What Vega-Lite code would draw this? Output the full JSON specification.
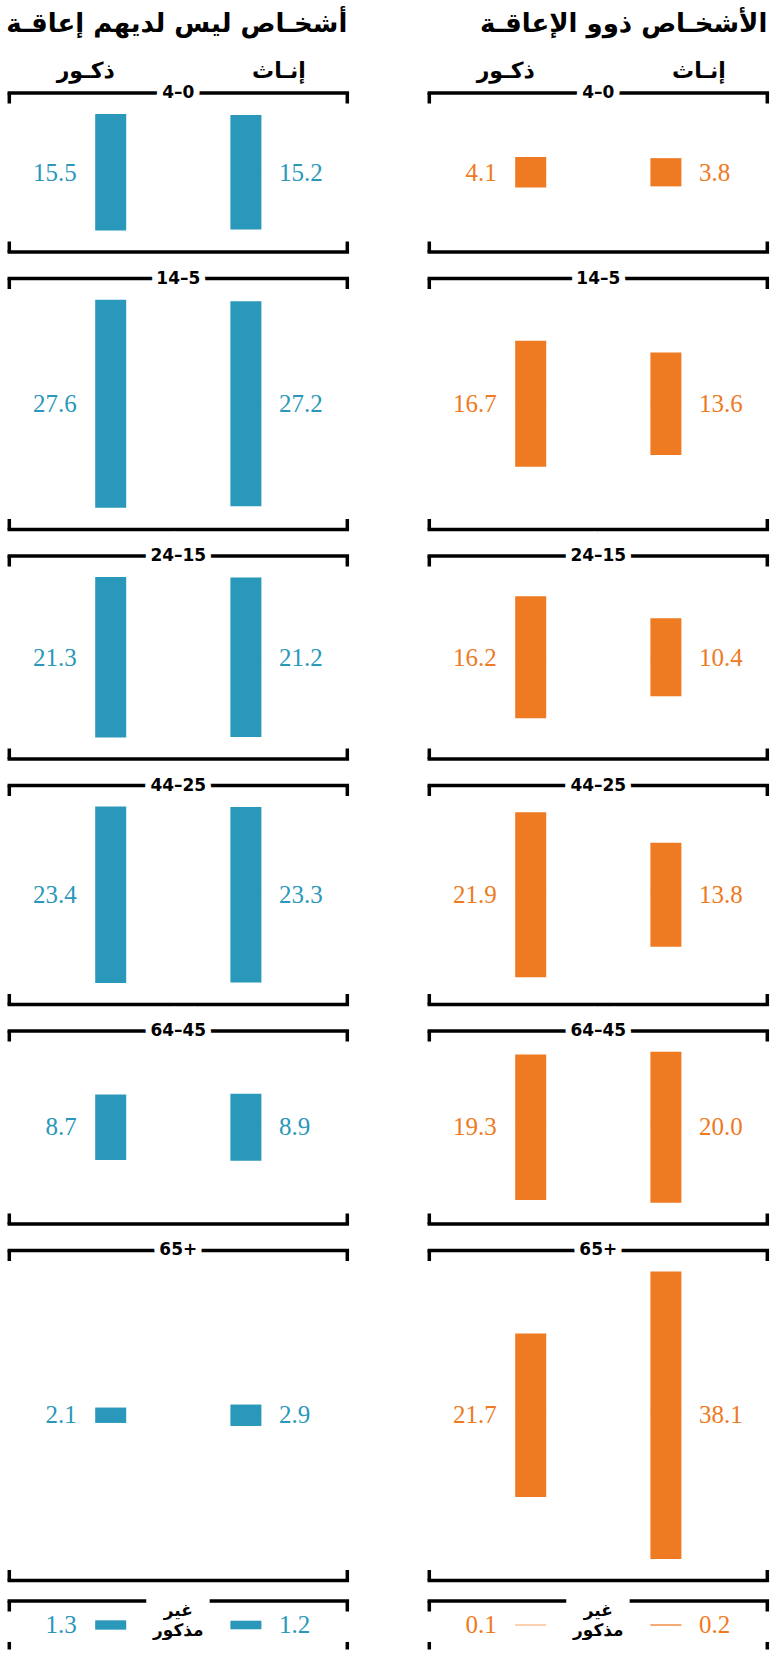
{
"$schema": "https://vega.github.io/schema/vega-lite/v6.json",
"padding": {"left": 5.3, "top": 11, "right": 0, "bottom": 0},
"background": "white",
"config": {"view": {"stroke": null}},
"datasets": {"d": [
{"group": "أشخـاص ليس لديهم إعاقـة", "age": "4–0", "sex": "ذكـور", "value": 15.5},
{"group": "أشخـاص ليس لديهم إعاقـة", "age": "4–0", "sex": "إنـاث", "value": 15.2},
{"group": "أشخـاص ليس لديهم إعاقـة", "age": "14–5", "sex": "ذكـور", "value": 27.6},
{"group": "أشخـاص ليس لديهم إعاقـة", "age": "14–5", "sex": "إنـاث", "value": 27.2},
{"group": "أشخـاص ليس لديهم إعاقـة", "age": "24–15", "sex": "ذكـور", "value": 21.3},
{"group": "أشخـاص ليس لديهم إعاقـة", "age": "24–15", "sex": "إنـاث", "value": 21.2},
{"group": "أشخـاص ليس لديهم إعاقـة", "age": "44–25", "sex": "ذكـور", "value": 23.4},
{"group": "أشخـاص ليس لديهم إعاقـة", "age": "44–25", "sex": "إنـاث", "value": 23.3},
{"group": "أشخـاص ليس لديهم إعاقـة", "age": "64–45", "sex": "ذكـور", "value": 8.7},
{"group": "أشخـاص ليس لديهم إعاقـة", "age": "64–45", "sex": "إنـاث", "value": 8.9},
{"group": "أشخـاص ليس لديهم إعاقـة", "age": "65+", "sex": "ذكـور", "value": 2.1},
{"group": "أشخـاص ليس لديهم إعاقـة", "age": "65+", "sex": "إنـاث", "value": 2.9},
{"group": "أشخـاص ليس لديهم إعاقـة", "age": "غير مذكور", "sex": "ذكـور", "value": 1.3},
{"group": "أشخـاص ليس لديهم إعاقـة", "age": "غير مذكور", "sex": "إنـاث", "value": 1.2},
{"group": "الأشخـاص ذوو الإعاقـة", "age": "4–0", "sex": "ذكـور", "value": 4.1},
{"group": "الأشخـاص ذوو الإعاقـة", "age": "4–0", "sex": "إنـاث", "value": 3.8},
{"group": "الأشخـاص ذوو الإعاقـة", "age": "14–5", "sex": "ذكـور", "value": 16.7},
{"group": "الأشخـاص ذوو الإعاقـة", "age": "14–5", "sex": "إنـاث", "value": 13.6},
{"group": "الأشخـاص ذوو الإعاقـة", "age": "24–15", "sex": "ذكـور", "value": 16.2},
{"group": "الأشخـاص ذوو الإعاقـة", "age": "24–15", "sex": "إنـاث", "value": 10.4},
{"group": "الأشخـاص ذوو الإعاقـة", "age": "44–25", "sex": "ذكـور", "value": 21.9},
{"group": "الأشخـاص ذوو الإعاقـة", "age": "44–25", "sex": "إنـاث", "value": 13.8},
{"group": "الأشخـاص ذوو الإعاقـة", "age": "64–45", "sex": "ذكـور", "value": 19.3},
{"group": "الأشخـاص ذوو الإعاقـة", "age": "64–45", "sex": "إنـاث", "value": 20.0},
{"group": "الأشخـاص ذوو الإعاقـة", "age": "65+", "sex": "ذكـور", "value": 21.7},
{"group": "الأشخـاص ذوو الإعاقـة", "age": "65+", "sex": "إنـاث", "value": 38.1},
{"group": "الأشخـاص ذوو الإعاقـة", "age": "غير مذكور", "sex": "ذكـور", "value": 0.1},
{"group": "الأشخـاص ذوو الإعاقـة", "age": "غير مذكور", "sex": "إنـاث", "value": 0.2}
]},
"spacing": 14.5,
"vconcat": [
{
"data": {"name": "d"},
"transform": [{"filter": {"field": "age", "equal": "4–0"}}],
"facet": {"column": {"field": "group", "type": "nominal", "sort": ["أشخـاص ليس لديهم إعاقـة", "الأشخـاص ذوو الإعاقـة"], "header": {"title": null, "labelOrient": "top", "labelAnchor": "end", "labelAlign": "right", "labelBaseline": "alphabetic", "labelFont": "DejaVu Sans", "labelFontWeight": "bold", "labelFontSize": 26, "labelColor": "#000", "labelPadding": 35}}},
"spacing": 82,
"bounds": "flush",
"spec": {
"width": 338, "height": 159,
"layer": [
{"mark": {"type": "bar", "width": 31}, "encoding": {
"x": {"field": "sex", "type": "nominal", "scale": {"type": "point", "domain": ["ذكـور", "إنـاث"], "padding": 0.75}, "axis": null},
"y": {"field": "value", "type": "quantitative", "stack": null, "scale": {"domain": [-21.04, 21.04], "nice": false}, "axis": null},
"color": {"field": "group", "type": "nominal", "scale": {"domain": ["أشخـاص ليس لديهم إعاقـة", "الأشخـاص ذوو الإعاقـة"], "range": ["#2a98ba", "#ee7a22"]}, "legend": null}}},
{"mark": {"type": "bar", "width": 31}, "encoding": {
"x": {"field": "sex", "type": "nominal", "scale": {"type": "point", "domain": ["ذكـور", "إنـاث"], "padding": 0.75}, "axis": null},
"y": {"field": "value", "type": "quantitative", "stack": null, "scale": {"domain": [-20.91, 21.17], "reverse": true, "nice": false}, "axis": null},
"color": {"field": "group", "type": "nominal", "legend": null}}},
{"layer": [
{"transform": [{"filter": {"field": "sex", "equal": "ذكـور"}}],
"mark": {"type": "text", "align": "right", "baseline": "middle", "dx": -34, "font": "Liberation Serif", "fontSize": 25},
"encoding": {"x": {"field": "sex", "type": "nominal", "scale": {"type": "point", "domain": ["ذكـور", "إنـاث"], "padding": 0.75}, "axis": null}, "y": {"datum": 0, "type": "quantitative", "scale": {"domain": [-10.52, 10.52], "nice": false}, "axis": null}, "text": {"field": "value", "type": "quantitative", "format": ".1f"}, "color": {"field": "group", "type": "nominal", "legend": null}}},
{"transform": [{"filter": {"field": "sex", "equal": "إنـاث"}}],
"mark": {"type": "text", "align": "left", "baseline": "middle", "dx": 33, "font": "Liberation Serif", "fontSize": 25},
"encoding": {"x": {"field": "sex", "type": "nominal"}, "y": {"datum": 0, "type": "quantitative"}, "text": {"field": "value", "type": "quantitative", "format": ".1f"}, "color": {"field": "group", "type": "nominal", "legend": null}}},
{"transform": [{"filter": {"field": "sex", "equal": "ذكـور"}}],
"mark": {"type": "text", "align": "center", "baseline": "alphabetic", "dx": -25, "font": "DejaVu Sans", "fontWeight": "bold", "fontSize": 22, "color": "#000"},
"encoding": {"x": {"field": "sex", "type": "nominal"}, "y": {"datum": 12.57, "type": "quantitative"}, "text": {"field": "sex"}}},
{"transform": [{"filter": {"field": "sex", "equal": "إنـاث"}}],
"mark": {"type": "text", "align": "center", "baseline": "alphabetic", "dx": 33, "font": "DejaVu Sans", "fontWeight": "bold", "fontSize": 22, "color": "#000"},
"encoding": {"x": {"field": "sex", "type": "nominal"}, "y": {"datum": 12.57, "type": "quantitative"}, "text": {"field": "sex"}}}
]},
{"transform": [{"filter": {"field": "sex", "equal": "ذكـور"}}],
"layer": [
{"mark": {"type": "rule", "strokeWidth": 3.5, "strokeCap": "square", "color": "#000"}, "encoding": {"x": {"datum": 0, "type": "quantitative", "scale": {"domain": [0, 1], "nice": false, "zero": false}, "axis": null}, "x2": {"datum": 1}, "y": {"datum": 10.52, "type": "quantitative", "scale": {"domain": [-10.52, 10.52], "nice": false}, "axis": null}}},
{"mark": {"type": "rule", "strokeWidth": 3.5, "strokeCap": "square", "color": "#000"}, "encoding": {"x": {"datum": 0, "type": "quantitative"}, "x2": {"datum": 1}, "y": {"datum": -10.52, "type": "quantitative"}}},
{"mark": {"type": "rule", "strokeWidth": 3.5, "color": "#000"}, "encoding": {"x": {"datum": 0, "type": "quantitative"}, "y": {"datum": 10.52, "type": "quantitative"}, "y2": {"datum": 9.13}}},
{"mark": {"type": "rule", "strokeWidth": 3.5, "color": "#000"}, "encoding": {"x": {"datum": 1, "type": "quantitative"}, "y": {"datum": 10.52, "type": "quantitative"}, "y2": {"datum": 9.13}}},
{"mark": {"type": "rule", "strokeWidth": 3.5, "color": "#000"}, "encoding": {"x": {"datum": 0, "type": "quantitative"}, "y": {"datum": -10.52, "type": "quantitative"}, "y2": {"datum": -9.13}}},
{"mark": {"type": "rule", "strokeWidth": 3.5, "color": "#000"}, "encoding": {"x": {"datum": 1, "type": "quantitative"}, "y": {"datum": -10.52, "type": "quantitative"}, "y2": {"datum": -9.13}}},
{"mark": {"type": "text", "font": "DejaVu Sans", "fontWeight": "bold", "fontSize": 17, "baseline": "middle", "fill": "#fff", "stroke": "#fff", "strokeWidth": 12}, "encoding": {"x": {"datum": 0.5, "type": "quantitative"}, "y": {"datum": 10.52, "type": "quantitative"}, "text": {"field": "age"}}},
{"mark": {"type": "text", "font": "DejaVu Sans", "fontWeight": "bold", "fontSize": 17, "baseline": "middle", "color": "#000"}, "encoding": {"x": {"datum": 0.5, "type": "quantitative"}, "y": {"datum": 10.52, "type": "quantitative"}, "text": {"field": "age"}}}
]}
],
"resolve": {"scale": {"x": "independent", "y": "independent"}}
}
},
{
"data": {"name": "d"},
"transform": [{"filter": {"field": "age", "equal": "14–5"}}],
"facet": {"column": {"field": "group", "type": "nominal", "sort": ["أشخـاص ليس لديهم إعاقـة", "الأشخـاص ذوو الإعاقـة"], "header": null}},
"spacing": 82,
"bounds": "flush",
"spec": {
"width": 338, "height": 251,
"layer": [
{"mark": {"type": "bar", "width": 31}, "encoding": {
"x": {"field": "sex", "type": "nominal", "scale": {"type": "point", "domain": ["ذكـور", "إنـاث"], "padding": 0.75}, "axis": null},
"y": {"field": "value", "type": "quantitative", "stack": null, "scale": {"domain": [-33.2, 33.2], "nice": false}, "axis": null},
"color": {"field": "group", "type": "nominal", "scale": {"domain": ["أشخـاص ليس لديهم إعاقـة", "الأشخـاص ذوو الإعاقـة"], "range": ["#2a98ba", "#ee7a22"]}, "legend": null}}},
{"mark": {"type": "bar", "width": 31}, "encoding": {
"x": {"field": "sex", "type": "nominal", "scale": {"type": "point", "domain": ["ذكـور", "إنـاث"], "padding": 0.75}, "axis": null},
"y": {"field": "value", "type": "quantitative", "stack": null, "scale": {"domain": [-33.07, 33.33], "reverse": true, "nice": false}, "axis": null},
"color": {"field": "group", "type": "nominal", "legend": null}}},
{"layer": [
{"transform": [{"filter": {"field": "sex", "equal": "ذكـور"}}],
"mark": {"type": "text", "align": "right", "baseline": "middle", "dx": -34, "font": "Liberation Serif", "fontSize": 25},
"encoding": {"x": {"field": "sex", "type": "nominal", "scale": {"type": "point", "domain": ["ذكـور", "إنـاث"], "padding": 0.75}, "axis": null}, "y": {"datum": 0, "type": "quantitative", "scale": {"domain": [-16.6, 16.6], "nice": false}, "axis": null}, "text": {"field": "value", "type": "quantitative", "format": ".1f"}, "color": {"field": "group", "type": "nominal", "legend": null}}},
{"transform": [{"filter": {"field": "sex", "equal": "إنـاث"}}],
"mark": {"type": "text", "align": "left", "baseline": "middle", "dx": 33, "font": "Liberation Serif", "fontSize": 25},
"encoding": {"x": {"field": "sex", "type": "nominal"}, "y": {"datum": 0, "type": "quantitative"}, "text": {"field": "value", "type": "quantitative", "format": ".1f"}, "color": {"field": "group", "type": "nominal", "legend": null}}}
]},
{"transform": [{"filter": {"field": "sex", "equal": "ذكـور"}}],
"layer": [
{"mark": {"type": "rule", "strokeWidth": 3.5, "strokeCap": "square", "color": "#000"}, "encoding": {"x": {"datum": 0, "type": "quantitative", "scale": {"domain": [0, 1], "nice": false, "zero": false}, "axis": null}, "x2": {"datum": 1}, "y": {"datum": 16.6, "type": "quantitative", "scale": {"domain": [-16.6, 16.6], "nice": false}, "axis": null}}},
{"mark": {"type": "rule", "strokeWidth": 3.5, "strokeCap": "square", "color": "#000"}, "encoding": {"x": {"datum": 0, "type": "quantitative"}, "x2": {"datum": 1}, "y": {"datum": -16.6, "type": "quantitative"}}},
{"mark": {"type": "rule", "strokeWidth": 3.5, "color": "#000"}, "encoding": {"x": {"datum": 0, "type": "quantitative"}, "y": {"datum": 16.6, "type": "quantitative"}, "y2": {"datum": 15.21}}},
{"mark": {"type": "rule", "strokeWidth": 3.5, "color": "#000"}, "encoding": {"x": {"datum": 1, "type": "quantitative"}, "y": {"datum": 16.6, "type": "quantitative"}, "y2": {"datum": 15.21}}},
{"mark": {"type": "rule", "strokeWidth": 3.5, "color": "#000"}, "encoding": {"x": {"datum": 0, "type": "quantitative"}, "y": {"datum": -16.6, "type": "quantitative"}, "y2": {"datum": -15.21}}},
{"mark": {"type": "rule", "strokeWidth": 3.5, "color": "#000"}, "encoding": {"x": {"datum": 1, "type": "quantitative"}, "y": {"datum": -16.6, "type": "quantitative"}, "y2": {"datum": -15.21}}},
{"mark": {"type": "text", "font": "DejaVu Sans", "fontWeight": "bold", "fontSize": 17, "baseline": "middle", "fill": "#fff", "stroke": "#fff", "strokeWidth": 12}, "encoding": {"x": {"datum": 0.5, "type": "quantitative"}, "y": {"datum": 16.6, "type": "quantitative"}, "text": {"field": "age"}}},
{"mark": {"type": "text", "font": "DejaVu Sans", "fontWeight": "bold", "fontSize": 17, "baseline": "middle", "color": "#000"}, "encoding": {"x": {"datum": 0.5, "type": "quantitative"}, "y": {"datum": 16.6, "type": "quantitative"}, "text": {"field": "age"}}}
]}
],
"resolve": {"scale": {"x": "independent", "y": "independent"}}
}
},
{
"data": {"name": "d"},
"transform": [{"filter": {"field": "age", "equal": "24–15"}}],
"facet": {"column": {"field": "group", "type": "nominal", "sort": ["أشخـاص ليس لديهم إعاقـة", "الأشخـاص ذوو الإعاقـة"], "header": null}},
"spacing": 82,
"bounds": "flush",
"spec": {
"width": 338, "height": 203,
"layer": [
{"mark": {"type": "bar", "width": 31}, "encoding": {
"x": {"field": "sex", "type": "nominal", "scale": {"type": "point", "domain": ["ذكـور", "إنـاث"], "padding": 0.75}, "axis": null},
"y": {"field": "value", "type": "quantitative", "stack": null, "scale": {"domain": [-26.86, 26.86], "nice": false}, "axis": null},
"color": {"field": "group", "type": "nominal", "scale": {"domain": ["أشخـاص ليس لديهم إعاقـة", "الأشخـاص ذوو الإعاقـة"], "range": ["#2a98ba", "#ee7a22"]}, "legend": null}}},
{"mark": {"type": "bar", "width": 31}, "encoding": {
"x": {"field": "sex", "type": "nominal", "scale": {"type": "point", "domain": ["ذكـور", "إنـاث"], "padding": 0.75}, "axis": null},
"y": {"field": "value", "type": "quantitative", "stack": null, "scale": {"domain": [-26.73, 26.99], "reverse": true, "nice": false}, "axis": null},
"color": {"field": "group", "type": "nominal", "legend": null}}},
{"layer": [
{"transform": [{"filter": {"field": "sex", "equal": "ذكـور"}}],
"mark": {"type": "text", "align": "right", "baseline": "middle", "dx": -34, "font": "Liberation Serif", "fontSize": 25},
"encoding": {"x": {"field": "sex", "type": "nominal", "scale": {"type": "point", "domain": ["ذكـور", "إنـاث"], "padding": 0.75}, "axis": null}, "y": {"datum": 0, "type": "quantitative", "scale": {"domain": [-13.43, 13.43], "nice": false}, "axis": null}, "text": {"field": "value", "type": "quantitative", "format": ".1f"}, "color": {"field": "group", "type": "nominal", "legend": null}}},
{"transform": [{"filter": {"field": "sex", "equal": "إنـاث"}}],
"mark": {"type": "text", "align": "left", "baseline": "middle", "dx": 33, "font": "Liberation Serif", "fontSize": 25},
"encoding": {"x": {"field": "sex", "type": "nominal"}, "y": {"datum": 0, "type": "quantitative"}, "text": {"field": "value", "type": "quantitative", "format": ".1f"}, "color": {"field": "group", "type": "nominal", "legend": null}}}
]},
{"transform": [{"filter": {"field": "sex", "equal": "ذكـور"}}],
"layer": [
{"mark": {"type": "rule", "strokeWidth": 3.5, "strokeCap": "square", "color": "#000"}, "encoding": {"x": {"datum": 0, "type": "quantitative", "scale": {"domain": [0, 1], "nice": false, "zero": false}, "axis": null}, "x2": {"datum": 1}, "y": {"datum": 13.43, "type": "quantitative", "scale": {"domain": [-13.43, 13.43], "nice": false}, "axis": null}}},
{"mark": {"type": "rule", "strokeWidth": 3.5, "strokeCap": "square", "color": "#000"}, "encoding": {"x": {"datum": 0, "type": "quantitative"}, "x2": {"datum": 1}, "y": {"datum": -13.43, "type": "quantitative"}}},
{"mark": {"type": "rule", "strokeWidth": 3.5, "color": "#000"}, "encoding": {"x": {"datum": 0, "type": "quantitative"}, "y": {"datum": 13.43, "type": "quantitative"}, "y2": {"datum": 12.04}}},
{"mark": {"type": "rule", "strokeWidth": 3.5, "color": "#000"}, "encoding": {"x": {"datum": 1, "type": "quantitative"}, "y": {"datum": 13.43, "type": "quantitative"}, "y2": {"datum": 12.04}}},
{"mark": {"type": "rule", "strokeWidth": 3.5, "color": "#000"}, "encoding": {"x": {"datum": 0, "type": "quantitative"}, "y": {"datum": -13.43, "type": "quantitative"}, "y2": {"datum": -12.04}}},
{"mark": {"type": "rule", "strokeWidth": 3.5, "color": "#000"}, "encoding": {"x": {"datum": 1, "type": "quantitative"}, "y": {"datum": -13.43, "type": "quantitative"}, "y2": {"datum": -12.04}}},
{"mark": {"type": "text", "font": "DejaVu Sans", "fontWeight": "bold", "fontSize": 17, "baseline": "middle", "fill": "#fff", "stroke": "#fff", "strokeWidth": 12}, "encoding": {"x": {"datum": 0.5, "type": "quantitative"}, "y": {"datum": 13.43, "type": "quantitative"}, "text": {"field": "age"}}},
{"mark": {"type": "text", "font": "DejaVu Sans", "fontWeight": "bold", "fontSize": 17, "baseline": "middle", "color": "#000"}, "encoding": {"x": {"datum": 0.5, "type": "quantitative"}, "y": {"datum": 13.43, "type": "quantitative"}, "text": {"field": "age"}}}
]}
],
"resolve": {"scale": {"x": "independent", "y": "independent"}}
}
},
{
"data": {"name": "d"},
"transform": [{"filter": {"field": "age", "equal": "44–25"}}],
"facet": {"column": {"field": "group", "type": "nominal", "sort": ["أشخـاص ليس لديهم إعاقـة", "الأشخـاص ذوو الإعاقـة"], "header": null}},
"spacing": 82,
"bounds": "flush",
"spec": {
"width": 338, "height": 219,
"layer": [
{"mark": {"type": "bar", "width": 31}, "encoding": {
"x": {"field": "sex", "type": "nominal", "scale": {"type": "point", "domain": ["ذكـور", "إنـاث"], "padding": 0.75}, "axis": null},
"y": {"field": "value", "type": "quantitative", "stack": null, "scale": {"domain": [-28.96, 28.96], "nice": false}, "axis": null},
"color": {"field": "group", "type": "nominal", "scale": {"domain": ["أشخـاص ليس لديهم إعاقـة", "الأشخـاص ذوو الإعاقـة"], "range": ["#2a98ba", "#ee7a22"]}, "legend": null}}},
{"mark": {"type": "bar", "width": 31}, "encoding": {
"x": {"field": "sex", "type": "nominal", "scale": {"type": "point", "domain": ["ذكـور", "إنـاث"], "padding": 0.75}, "axis": null},
"y": {"field": "value", "type": "quantitative", "stack": null, "scale": {"domain": [-28.83, 29.09], "reverse": true, "nice": false}, "axis": null},
"color": {"field": "group", "type": "nominal", "legend": null}}},
{"layer": [
{"transform": [{"filter": {"field": "sex", "equal": "ذكـور"}}],
"mark": {"type": "text", "align": "right", "baseline": "middle", "dx": -34, "font": "Liberation Serif", "fontSize": 25},
"encoding": {"x": {"field": "sex", "type": "nominal", "scale": {"type": "point", "domain": ["ذكـور", "إنـاث"], "padding": 0.75}, "axis": null}, "y": {"datum": 0, "type": "quantitative", "scale": {"domain": [-14.48, 14.48], "nice": false}, "axis": null}, "text": {"field": "value", "type": "quantitative", "format": ".1f"}, "color": {"field": "group", "type": "nominal", "legend": null}}},
{"transform": [{"filter": {"field": "sex", "equal": "إنـاث"}}],
"mark": {"type": "text", "align": "left", "baseline": "middle", "dx": 33, "font": "Liberation Serif", "fontSize": 25},
"encoding": {"x": {"field": "sex", "type": "nominal"}, "y": {"datum": 0, "type": "quantitative"}, "text": {"field": "value", "type": "quantitative", "format": ".1f"}, "color": {"field": "group", "type": "nominal", "legend": null}}}
]},
{"transform": [{"filter": {"field": "sex", "equal": "ذكـور"}}],
"layer": [
{"mark": {"type": "rule", "strokeWidth": 3.5, "strokeCap": "square", "color": "#000"}, "encoding": {"x": {"datum": 0, "type": "quantitative", "scale": {"domain": [0, 1], "nice": false, "zero": false}, "axis": null}, "x2": {"datum": 1}, "y": {"datum": 14.48, "type": "quantitative", "scale": {"domain": [-14.48, 14.48], "nice": false}, "axis": null}}},
{"mark": {"type": "rule", "strokeWidth": 3.5, "strokeCap": "square", "color": "#000"}, "encoding": {"x": {"datum": 0, "type": "quantitative"}, "x2": {"datum": 1}, "y": {"datum": -14.48, "type": "quantitative"}}},
{"mark": {"type": "rule", "strokeWidth": 3.5, "color": "#000"}, "encoding": {"x": {"datum": 0, "type": "quantitative"}, "y": {"datum": 14.48, "type": "quantitative"}, "y2": {"datum": 13.09}}},
{"mark": {"type": "rule", "strokeWidth": 3.5, "color": "#000"}, "encoding": {"x": {"datum": 1, "type": "quantitative"}, "y": {"datum": 14.48, "type": "quantitative"}, "y2": {"datum": 13.09}}},
{"mark": {"type": "rule", "strokeWidth": 3.5, "color": "#000"}, "encoding": {"x": {"datum": 0, "type": "quantitative"}, "y": {"datum": -14.48, "type": "quantitative"}, "y2": {"datum": -13.09}}},
{"mark": {"type": "rule", "strokeWidth": 3.5, "color": "#000"}, "encoding": {"x": {"datum": 1, "type": "quantitative"}, "y": {"datum": -14.48, "type": "quantitative"}, "y2": {"datum": -13.09}}},
{"mark": {"type": "text", "font": "DejaVu Sans", "fontWeight": "bold", "fontSize": 17, "baseline": "middle", "fill": "#fff", "stroke": "#fff", "strokeWidth": 12}, "encoding": {"x": {"datum": 0.5, "type": "quantitative"}, "y": {"datum": 14.48, "type": "quantitative"}, "text": {"field": "age"}}},
{"mark": {"type": "text", "font": "DejaVu Sans", "fontWeight": "bold", "fontSize": 17, "baseline": "middle", "color": "#000"}, "encoding": {"x": {"datum": 0.5, "type": "quantitative"}, "y": {"datum": 14.48, "type": "quantitative"}, "text": {"field": "age"}}}
]}
],
"resolve": {"scale": {"x": "independent", "y": "independent"}}
}
},
{
"data": {"name": "d"},
"transform": [{"filter": {"field": "age", "equal": "64–45"}}],
"facet": {"column": {"field": "group", "type": "nominal", "sort": ["أشخـاص ليس لديهم إعاقـة", "الأشخـاص ذوو الإعاقـة"], "header": null}},
"spacing": 82,
"bounds": "flush",
"spec": {
"width": 338, "height": 193,
"layer": [
{"mark": {"type": "bar", "width": 31}, "encoding": {
"x": {"field": "sex", "type": "nominal", "scale": {"type": "point", "domain": ["ذكـور", "إنـاث"], "padding": 0.75}, "axis": null},
"y": {"field": "value", "type": "quantitative", "stack": null, "scale": {"domain": [-25.52, 25.52], "nice": false}, "axis": null},
"color": {"field": "group", "type": "nominal", "scale": {"domain": ["أشخـاص ليس لديهم إعاقـة", "الأشخـاص ذوو الإعاقـة"], "range": ["#2a98ba", "#ee7a22"]}, "legend": null}}},
{"mark": {"type": "bar", "width": 31}, "encoding": {
"x": {"field": "sex", "type": "nominal", "scale": {"type": "point", "domain": ["ذكـور", "إنـاث"], "padding": 0.75}, "axis": null},
"y": {"field": "value", "type": "quantitative", "stack": null, "scale": {"domain": [-25.39, 25.65], "reverse": true, "nice": false}, "axis": null},
"color": {"field": "group", "type": "nominal", "legend": null}}},
{"layer": [
{"transform": [{"filter": {"field": "sex", "equal": "ذكـور"}}],
"mark": {"type": "text", "align": "right", "baseline": "middle", "dx": -34, "font": "Liberation Serif", "fontSize": 25},
"encoding": {"x": {"field": "sex", "type": "nominal", "scale": {"type": "point", "domain": ["ذكـور", "إنـاث"], "padding": 0.75}, "axis": null}, "y": {"datum": 0, "type": "quantitative", "scale": {"domain": [-12.76, 12.76], "nice": false}, "axis": null}, "text": {"field": "value", "type": "quantitative", "format": ".1f"}, "color": {"field": "group", "type": "nominal", "legend": null}}},
{"transform": [{"filter": {"field": "sex", "equal": "إنـاث"}}],
"mark": {"type": "text", "align": "left", "baseline": "middle", "dx": 33, "font": "Liberation Serif", "fontSize": 25},
"encoding": {"x": {"field": "sex", "type": "nominal"}, "y": {"datum": 0, "type": "quantitative"}, "text": {"field": "value", "type": "quantitative", "format": ".1f"}, "color": {"field": "group", "type": "nominal", "legend": null}}}
]},
{"transform": [{"filter": {"field": "sex", "equal": "ذكـور"}}],
"layer": [
{"mark": {"type": "rule", "strokeWidth": 3.5, "strokeCap": "square", "color": "#000"}, "encoding": {"x": {"datum": 0, "type": "quantitative", "scale": {"domain": [0, 1], "nice": false, "zero": false}, "axis": null}, "x2": {"datum": 1}, "y": {"datum": 12.76, "type": "quantitative", "scale": {"domain": [-12.76, 12.76], "nice": false}, "axis": null}}},
{"mark": {"type": "rule", "strokeWidth": 3.5, "strokeCap": "square", "color": "#000"}, "encoding": {"x": {"datum": 0, "type": "quantitative"}, "x2": {"datum": 1}, "y": {"datum": -12.76, "type": "quantitative"}}},
{"mark": {"type": "rule", "strokeWidth": 3.5, "color": "#000"}, "encoding": {"x": {"datum": 0, "type": "quantitative"}, "y": {"datum": 12.76, "type": "quantitative"}, "y2": {"datum": 11.37}}},
{"mark": {"type": "rule", "strokeWidth": 3.5, "color": "#000"}, "encoding": {"x": {"datum": 1, "type": "quantitative"}, "y": {"datum": 12.76, "type": "quantitative"}, "y2": {"datum": 11.37}}},
{"mark": {"type": "rule", "strokeWidth": 3.5, "color": "#000"}, "encoding": {"x": {"datum": 0, "type": "quantitative"}, "y": {"datum": -12.76, "type": "quantitative"}, "y2": {"datum": -11.37}}},
{"mark": {"type": "rule", "strokeWidth": 3.5, "color": "#000"}, "encoding": {"x": {"datum": 1, "type": "quantitative"}, "y": {"datum": -12.76, "type": "quantitative"}, "y2": {"datum": -11.37}}},
{"mark": {"type": "text", "font": "DejaVu Sans", "fontWeight": "bold", "fontSize": 17, "baseline": "middle", "fill": "#fff", "stroke": "#fff", "strokeWidth": 12}, "encoding": {"x": {"datum": 0.5, "type": "quantitative"}, "y": {"datum": 12.76, "type": "quantitative"}, "text": {"field": "age"}}},
{"mark": {"type": "text", "font": "DejaVu Sans", "fontWeight": "bold", "fontSize": 17, "baseline": "middle", "color": "#000"}, "encoding": {"x": {"datum": 0.5, "type": "quantitative"}, "y": {"datum": 12.76, "type": "quantitative"}, "text": {"field": "age"}}}
]}
],
"resolve": {"scale": {"x": "independent", "y": "independent"}}
}
},
{
"data": {"name": "d"},
"transform": [{"filter": {"field": "age", "equal": "65+"}}],
"facet": {"column": {"field": "group", "type": "nominal", "sort": ["أشخـاص ليس لديهم إعاقـة", "الأشخـاص ذوو الإعاقـة"], "header": null}},
"spacing": 82,
"bounds": "flush",
"spec": {
"width": 338, "height": 330,
"layer": [
{"mark": {"type": "bar", "width": 31}, "encoding": {
"x": {"field": "sex", "type": "nominal", "scale": {"type": "point", "domain": ["ذكـور", "إنـاث"], "padding": 0.75}, "axis": null},
"y": {"field": "value", "type": "quantitative", "stack": null, "scale": {"domain": [-43.66, 43.66], "nice": false}, "axis": null},
"color": {"field": "group", "type": "nominal", "scale": {"domain": ["أشخـاص ليس لديهم إعاقـة", "الأشخـاص ذوو الإعاقـة"], "range": ["#2a98ba", "#ee7a22"]}, "legend": null}}},
{"mark": {"type": "bar", "width": 31}, "encoding": {
"x": {"field": "sex", "type": "nominal", "scale": {"type": "point", "domain": ["ذكـور", "إنـاث"], "padding": 0.75}, "axis": null},
"y": {"field": "value", "type": "quantitative", "stack": null, "scale": {"domain": [-43.53, 43.79], "reverse": true, "nice": false}, "axis": null},
"color": {"field": "group", "type": "nominal", "legend": null}}},
{"layer": [
{"transform": [{"filter": {"field": "sex", "equal": "ذكـور"}}],
"mark": {"type": "text", "align": "right", "baseline": "middle", "dx": -34, "font": "Liberation Serif", "fontSize": 25},
"encoding": {"x": {"field": "sex", "type": "nominal", "scale": {"type": "point", "domain": ["ذكـور", "إنـاث"], "padding": 0.75}, "axis": null}, "y": {"datum": 0, "type": "quantitative", "scale": {"domain": [-21.83, 21.83], "nice": false}, "axis": null}, "text": {"field": "value", "type": "quantitative", "format": ".1f"}, "color": {"field": "group", "type": "nominal", "legend": null}}},
{"transform": [{"filter": {"field": "sex", "equal": "إنـاث"}}],
"mark": {"type": "text", "align": "left", "baseline": "middle", "dx": 33, "font": "Liberation Serif", "fontSize": 25},
"encoding": {"x": {"field": "sex", "type": "nominal"}, "y": {"datum": 0, "type": "quantitative"}, "text": {"field": "value", "type": "quantitative", "format": ".1f"}, "color": {"field": "group", "type": "nominal", "legend": null}}}
]},
{"transform": [{"filter": {"field": "sex", "equal": "ذكـور"}}],
"layer": [
{"mark": {"type": "rule", "strokeWidth": 3.5, "strokeCap": "square", "color": "#000"}, "encoding": {"x": {"datum": 0, "type": "quantitative", "scale": {"domain": [0, 1], "nice": false, "zero": false}, "axis": null}, "x2": {"datum": 1}, "y": {"datum": 21.83, "type": "quantitative", "scale": {"domain": [-21.83, 21.83], "nice": false}, "axis": null}}},
{"mark": {"type": "rule", "strokeWidth": 3.5, "strokeCap": "square", "color": "#000"}, "encoding": {"x": {"datum": 0, "type": "quantitative"}, "x2": {"datum": 1}, "y": {"datum": -21.83, "type": "quantitative"}}},
{"mark": {"type": "rule", "strokeWidth": 3.5, "color": "#000"}, "encoding": {"x": {"datum": 0, "type": "quantitative"}, "y": {"datum": 21.83, "type": "quantitative"}, "y2": {"datum": 20.44}}},
{"mark": {"type": "rule", "strokeWidth": 3.5, "color": "#000"}, "encoding": {"x": {"datum": 1, "type": "quantitative"}, "y": {"datum": 21.83, "type": "quantitative"}, "y2": {"datum": 20.44}}},
{"mark": {"type": "rule", "strokeWidth": 3.5, "color": "#000"}, "encoding": {"x": {"datum": 0, "type": "quantitative"}, "y": {"datum": -21.83, "type": "quantitative"}, "y2": {"datum": -20.44}}},
{"mark": {"type": "rule", "strokeWidth": 3.5, "color": "#000"}, "encoding": {"x": {"datum": 1, "type": "quantitative"}, "y": {"datum": -21.83, "type": "quantitative"}, "y2": {"datum": -20.44}}},
{"mark": {"type": "text", "font": "DejaVu Sans", "fontWeight": "bold", "fontSize": 17, "baseline": "middle", "fill": "#fff", "stroke": "#fff", "strokeWidth": 12}, "encoding": {"x": {"datum": 0.5, "type": "quantitative"}, "y": {"datum": 21.83, "type": "quantitative"}, "text": {"field": "age"}}},
{"mark": {"type": "text", "font": "DejaVu Sans", "fontWeight": "bold", "fontSize": 17, "baseline": "middle", "color": "#000"}, "encoding": {"x": {"datum": 0.5, "type": "quantitative"}, "y": {"datum": 21.83, "type": "quantitative"}, "text": {"field": "age"}}}
]}
],
"resolve": {"scale": {"x": "independent", "y": "independent"}}
}
},
{
"data": {"name": "d"},
"transform": [{"filter": {"field": "age", "equal": "غير مذكور"}}],
"facet": {"column": {"field": "group", "type": "nominal", "sort": ["أشخـاص ليس لديهم إعاقـة", "الأشخـاص ذوو الإعاقـة"], "header": null}},
"spacing": 82,
"bounds": "flush",
"spec": {
"width": 338, "height": 48.5,
"layer": [
{"mark": {"type": "bar", "width": 31}, "encoding": {
"x": {"field": "sex", "type": "nominal", "scale": {"type": "point", "domain": ["ذكـور", "إنـاث"], "padding": 0.75}, "axis": null},
"y": {"field": "value", "type": "quantitative", "stack": null, "scale": {"domain": [-6.416, 6.416], "nice": false}, "axis": null},
"color": {"field": "group", "type": "nominal", "scale": {"domain": ["أشخـاص ليس لديهم إعاقـة", "الأشخـاص ذوو الإعاقـة"], "range": ["#2a98ba", "#ee7a22"]}, "legend": null}}},
{"mark": {"type": "bar", "width": 31}, "encoding": {
"x": {"field": "sex", "type": "nominal", "scale": {"type": "point", "domain": ["ذكـور", "إنـاث"], "padding": 0.75}, "axis": null},
"y": {"field": "value", "type": "quantitative", "stack": null, "scale": {"domain": [-6.286, 6.546], "reverse": true, "nice": false}, "axis": null},
"color": {"field": "group", "type": "nominal", "legend": null}}},
{"layer": [
{"transform": [{"filter": {"field": "sex", "equal": "ذكـور"}}],
"mark": {"type": "text", "align": "right", "baseline": "middle", "dx": -34, "font": "Liberation Serif", "fontSize": 25},
"encoding": {"x": {"field": "sex", "type": "nominal", "scale": {"type": "point", "domain": ["ذكـور", "إنـاث"], "padding": 0.75}, "axis": null}, "y": {"datum": 0, "type": "quantitative", "scale": {"domain": [-3.208, 3.208], "nice": false}, "axis": null}, "text": {"field": "value", "type": "quantitative", "format": ".1f"}, "color": {"field": "group", "type": "nominal", "legend": null}}},
{"transform": [{"filter": {"field": "sex", "equal": "إنـاث"}}],
"mark": {"type": "text", "align": "left", "baseline": "middle", "dx": 33, "font": "Liberation Serif", "fontSize": 25},
"encoding": {"x": {"field": "sex", "type": "nominal"}, "y": {"datum": 0, "type": "quantitative"}, "text": {"field": "value", "type": "quantitative", "format": ".1f"}, "color": {"field": "group", "type": "nominal", "legend": null}}}
]},
{"transform": [{"filter": {"field": "sex", "equal": "ذكـور"}}],
"layer": [
{"mark": {"type": "rule", "strokeWidth": 3.5, "strokeCap": "square", "color": "#000"}, "encoding": {"x": {"datum": 0, "type": "quantitative", "scale": {"domain": [0, 1], "nice": false, "zero": false}, "axis": null}, "x2": {"datum": 0.4}, "y": {"datum": 3.208, "type": "quantitative", "scale": {"domain": [-3.208, 3.208], "nice": false}, "axis": null}}},
{"mark": {"type": "rule", "strokeWidth": 3.5, "strokeCap": "square", "color": "#000"}, "encoding": {"x": {"datum": 0.598, "type": "quantitative"}, "x2": {"datum": 1}, "y": {"datum": 3.208, "type": "quantitative"}}},
{"mark": {"type": "rule", "strokeWidth": 3.5, "color": "#000"}, "encoding": {"x": {"datum": 0, "type": "quantitative"}, "y": {"datum": 3.208, "type": "quantitative"}, "y2": {"datum": 1.818}}},
{"mark": {"type": "rule", "strokeWidth": 3.5, "color": "#000"}, "encoding": {"x": {"datum": 1, "type": "quantitative"}, "y": {"datum": 3.208, "type": "quantitative"}, "y2": {"datum": 1.818}}},
{"mark": {"type": "rule", "strokeWidth": 3.5, "color": "#000"}, "encoding": {"x": {"datum": 0, "type": "quantitative"}, "y": {"datum": -3.208, "type": "quantitative"}, "y2": {"datum": -2.208}}},
{"mark": {"type": "rule", "strokeWidth": 3.5, "color": "#000"}, "encoding": {"x": {"datum": 1, "type": "quantitative"}, "y": {"datum": -3.208, "type": "quantitative"}, "y2": {"datum": -2.208}}},
{"mark": {"type": "text", "font": "DejaVu Sans", "fontWeight": "bold", "fontSize": 17, "baseline": "middle", "lineBreak": " ", "lineHeight": 20, "dy": 10, "fill": "#fff", "stroke": "#fff", "strokeWidth": 12}, "encoding": {"x": {"datum": 0.5, "type": "quantitative"}, "y": {"datum": 3.208, "type": "quantitative"}, "text": {"field": "age"}}},
{"mark": {"type": "text", "font": "DejaVu Sans", "fontWeight": "bold", "fontSize": 17, "baseline": "middle", "lineBreak": " ", "lineHeight": 20, "dy": 10, "color": "#000"}, "encoding": {"x": {"datum": 0.5, "type": "quantitative"}, "y": {"datum": 3.208, "type": "quantitative"}, "text": {"field": "age"}}}
]}
],
"resolve": {"scale": {"x": "independent", "y": "independent"}}
}
}
]
}
